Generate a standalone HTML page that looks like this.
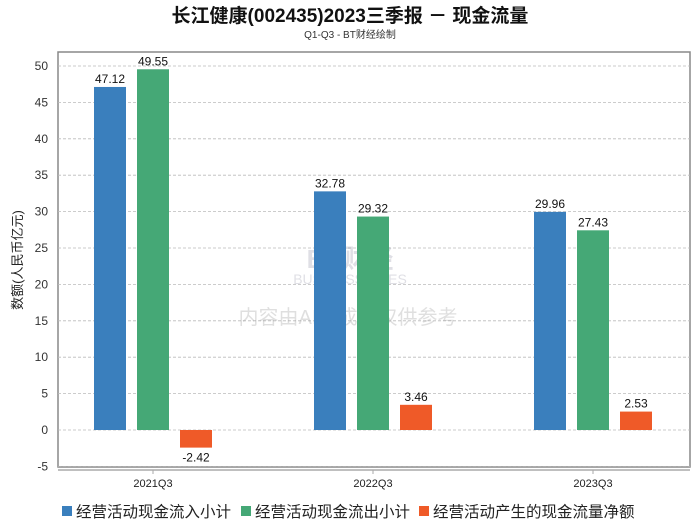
<!DOCTYPE html>
<html><head><meta charset="utf-8"><style>
body{margin:0;background:#fff;}
svg text{font-family:"Liberation Sans","Noto Sans CJK SC",sans-serif;}
</style></head><body>
<svg width="700" height="524" xmlns="http://www.w3.org/2000/svg" id="chart">
<text x="350" y="22" text-anchor="middle" font-size="19" font-weight="bold" fill="#111">长江健康(002435)2023三季报 － 现金流量</text>
<text x="350" y="38" text-anchor="middle" font-size="10" fill="#333">Q1-Q3 - BT财经绘制</text>
<rect x="58" y="52" width="632" height="415" fill="#fff" stroke="#888" stroke-width="1.5"/>
<g id="grid"></g>
<g id="watermark" opacity="0.3">
<text x="350" y="268" text-anchor="middle" font-size="26" font-weight="bold" fill="#99a" font-family="Liberation Serif,serif">BT财经</text>
<text x="350" y="284" text-anchor="middle" font-size="14" fill="#99a">BUSINESSTIMES</text>
<text x="348" y="324" text-anchor="middle" font-size="20" fill="#999">内容由AI生成，仅供参考</text>
</g>
<g id="bars"></g>
<line x1="58" y1="470" x2="690" y2="470" stroke="#aaa" stroke-width="1.5"/>
<text transform="translate(22,260) rotate(-90)" text-anchor="middle" font-size="13" fill="#222">数额(人民币亿元)</text>
<g id="legend"></g>
</svg>
<script>
const categories=["2021Q3","2022Q3","2023Q3"];
const seriesNames=["经营活动现金流入小计","经营活动现金流出小计","经营活动产生的现金流量净额"];
const inflow=[47.12,32.78,29.96];
const outflow=[49.55,29.32,27.43];
const net=[-2.42,3.46,2.53];
const yTicks=[-5,0,5,10,15,20,25,30,35,40,45,50];
const colors=["#3a7fbd","#45a876","#ef5a28"];
const NS="http://www.w3.org/2000/svg";
function y(v){return 430-v*7.28;}
function x(i){return 153+i*220;}
function mk(tag,attrs,parent){const e=document.createElementNS(NS,tag);for(const k in attrs)e.setAttribute(k,attrs[k]);parent.appendChild(e);return e;}
const grid=document.getElementById('grid');
yTicks.forEach(t=>{
  const l=mk('line',{x1:58,x2:690,y1:y(t),y2:y(t),stroke:'#bbb','stroke-dasharray':'3,2','stroke-width':0.8},grid);
  
  
  const tx=mk('text',{x:48,y:y(t)+4,'text-anchor':'end','font-size':12,fill:'#333'},grid);
  tx.textContent=t;
  
  
});
const bars=document.getElementById('bars');
const series=[inflow,outflow,net];
categories.forEach((c,i)=>{
  series.forEach((s,j)=>{
    const v=s[i];const cx=x(i)+(j-1)*43;
    const top=Math.min(y(v),y(0)),h=Math.abs(y(v)-y(0));
    const r=mk('rect',{x:cx-16,y:top,width:32,height:h,fill:colors[j]},bars);
    
    
    const t=mk('text',{x:cx,y:v>=0?top-4:top+h+14,'text-anchor':'middle','font-size':12,fill:'#111'},bars);
    t.textContent=v.toFixed(2);
    
    
  });
  const tk=mk('line',{x1:x(i),x2:x(i),y1:470,y2:474,stroke:'#aaa'},bars);
  
  
  const lb=mk('text',{x:x(i),y:487,'text-anchor':'middle','font-size':11,fill:'#222'},bars);
  lb.textContent=c;
  
  
});
const lg=document.getElementById('legend');
const lx=[62,241,419];
seriesNames.forEach((n,j)=>{
  const g=mk('g',{},lg);
  
  
  mk('rect',{x:lx[j],y:506,width:10,height:10,fill:colors[j]},g);
  const t=mk('text',{x:lx[j]+14,y:517,'font-size':15.5,fill:'#222'},g);
  t.textContent=n;
});
</script>
</body></html>
